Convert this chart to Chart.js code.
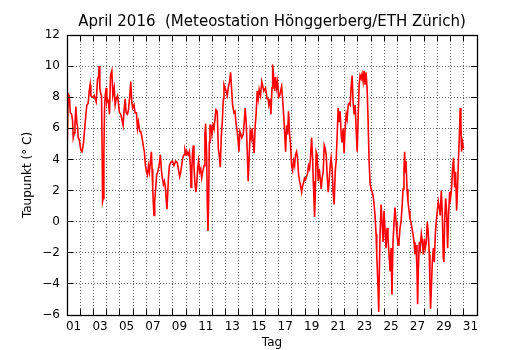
<!DOCTYPE html>
<html>
<head>
<meta charset="utf-8">
<script src="https://cdn.jsdelivr.net/npm/chart.js@4.4.1/dist/chart.umd.min.js"></script>
<style>
html,body{margin:0;padding:0;background:#fff;}
#wrap{width:530px;height:350px;position:relative;}
</style>
</head>
<body>
<div id="wrap"><canvas id="c" width="530" height="350"></canvas></div>
<script>
const chartTitle = 'April 2016  (Meteostation Hönggerberg/ETH Zürich)';
const xTitle = 'Tag';
const yTitle = 'Taupunkt (° C)';
const dayLabels = ['01','03','05','07','09','11','13','15','17','19','21','23','25','27','29','31'];
const yTicks = [-6,-4,-2,0,2,4,6,8,10,12];

// time in days (1.0 = 1 April 00:00)
const days = [
1.0,1.09,1.17,1.25,1.35,1.42,1.47,1.55,1.60,1.67,
1.75,1.80,1.85,1.92,2.05,2.13,2.18,2.25,2.35,2.43,
2.50,2.60,2.68,2.75,2.80,2.93,3.01,3.06,3.13,3.21,
3.31,3.38,3.43,3.48,3.56,3.61,3.66,3.69,3.74,3.79,
3.84,3.89,3.96,4.01,4.06,4.14,4.21,4.29,4.39,4.47,
4.57,4.64,4.72,4.82,4.89,4.97,5.07,5.17,5.24,5.32,
5.40,5.47,5.57,5.65,5.75,5.82,5.90,5.97,6.07,6.15,
6.25,6.33,6.40,6.50,6.58,6.65,6.73,6.80,6.85,6.93,
7.01,7.08,7.16,7.23,7.31,7.38,7.43,7.48,7.53,7.58,
7.63,7.71,7.78,7.86,7.96,8.06,8.14,8.21,8.29,8.36,
8.44,8.51,8.56,8.61,8.67,8.74,8.84,8.97,9.09,9.22,
9.34,9.42,9.52,9.60,9.67,9.75,9.85,9.92,10.0,10.07,
10.17,10.25,10.33,10.38,10.43,10.48,10.55,10.60,10.68,10.75,
10.80,10.88,10.95,11.03,11.11,11.18,11.26,11.36,11.43,11.48,
11.56,11.61,11.66,11.71,11.76,11.81,11.88,11.96,12.04,12.11,
12.19,12.26,12.36,12.44,12.51,12.59,12.66,12.74,12.82,12.87,
12.94,13.04,13.12,13.19,13.29,13.37,13.44,13.52,13.62,13.70,
13.77,13.87,13.95,14.0,14.07,14.15,14.22,14.32,14.40,14.47,
14.55,14.63,14.70,14.78,14.85,14.93,15.0,15.08,15.15,15.23,
15.30,15.38,15.46,15.53,15.63,15.73,15.81,15.88,16.01,16.13,
16.20,16.27,16.35,16.42,16.50,16.55,16.62,16.70,16.77,16.85,
16.92,17.0,17.08,17.15,17.23,17.30,17.38,17.45,17.53,17.60,
17.68,17.75,17.83,17.91,17.98,18.06,18.13,18.21,18.28,18.36,
18.43,18.51,18.59,18.66,18.74,18.81,18.89,18.96,19.04,19.11,
19.19,19.26,19.34,19.41,19.49,19.57,19.62,19.67,19.72,19.77,
19.84,19.92,19.99,20.07,20.14,20.22,20.29,20.37,20.45,20.52,
20.60,20.67,20.75,20.82,20.90,20.97,21.05,21.12,21.20,21.28,
21.35,21.43,21.50,21.58,21.65,21.73,21.80,21.88,21.95,22.03,
22.11,22.18,22.26,22.33,22.41,22.48,22.56,22.63,22.71,22.79,
22.86,22.94,23.01,23.09,23.16,23.24,23.31,23.39,23.46,23.54,
23.61,23.69,23.77,23.84,23.92,24.0,24.07,24.14,24.22,24.29,
24.37,24.42,24.47,24.52,24.57,24.62,24.67,24.75,24.82,24.90,
24.97,25.05,25.12,25.20,25.27,25.35,25.43,25.50,25.57,25.65,
25.73,25.80,25.88,25.95,26.03,26.10,26.18,26.26,26.33,26.41,
26.48,26.53,26.58,26.63,26.71,26.78,26.86,26.93,27.0,27.08,
27.16,27.24,27.31,27.39,27.46,27.51,27.56,27.64,27.71,27.79,
27.87,27.94,28.02,28.09,28.17,28.24,28.32,28.39,28.44,28.49,
28.55,28.62,28.70,28.77,28.85,28.92,29.0,29.07,29.15,29.22,
29.30,29.37,29.45,29.50,29.55,29.63,29.70,29.78,29.85,29.93,
30.0,30.08,30.15,30.23,30.31,30.38,30.46,30.53,30.61,30.68,
30.73,30.78,30.83,30.91,30.98
];

// dew point in °C
const dewpoint = [
4.3,8.2,8.1,7.0,6.9,6.5,5.4,5.7,6.2,7.4,
6.3,6.1,5.4,5.3,4.6,4.5,4.7,5.1,6.1,6.9,
7.5,7.6,8.4,8.8,8.1,8.0,8.0,8.1,7.9,7.7,
9.2,9.3,10.0,8.6,8.2,8.1,4.3,1.3,1.5,4.5,
7.3,8.1,8.6,7.7,7.9,7.7,6.9,9.4,9.7,8.1,
8.6,7.5,7.9,8.1,7.6,7.0,6.9,6.5,6.2,7.2,
7.9,7.0,6.9,7.2,8.1,9.0,7.7,7.3,7.5,7.0,
7.0,6.0,6.4,5.8,5.8,5.5,5.1,4.7,4.5,3.6,
3.2,3.0,3.6,3.2,3.9,4.5,3.4,2.2,1.1,0.4,
1.3,2.2,3.0,3.2,3.6,4.3,3.3,2.8,2.4,2.6,
2.2,1.3,0.8,1.7,2.8,3.6,3.8,3.9,3.6,3.9,
3.8,3.4,2.9,3.2,3.6,4.1,4.3,4.6,4.3,4.5,
4.3,4.5,3.6,2.2,3.0,4.3,4.9,3.6,2.4,1.9,
2.3,3.4,3.9,3.2,3.4,2.8,3.2,3.6,5.6,6.3,
4.3,1.1,-0.6,1.3,5.1,6.2,6.2,5.6,6.2,6.0,
6.6,7.2,7.1,4.7,4.3,3.5,5.4,6.4,7.9,8.8,
8.6,8.4,8.1,8.6,9.0,9.6,8.6,7.5,7.0,7.1,
6.4,5.8,5.1,4.5,5.8,5.6,5.4,5.6,6.4,7.3,
6.4,4.5,2.6,4.3,5.8,5.4,6.0,5.1,4.4,6.2,
6.9,8.4,7.9,8.5,8.1,9.0,8.7,8.4,8.6,7.9,
7.9,7.5,7.7,6.9,8.6,10.1,9.4,8.4,9.3,8.6,
9.0,8.0,8.1,8.4,8.7,7.9,6.9,5.8,4.5,6.2,
5.6,7.1,5.6,4.9,3.6,3.3,3.9,3.6,4.3,4.5,
4.1,3.0,2.6,2.3,1.9,2.3,2.5,2.8,2.7,2.9,
3.1,3.6,3.4,4.1,5.4,4.1,2.6,1.5,0.3,1.7,
4.5,4.3,2.6,3.4,2.8,2.1,2.8,3.2,4.9,4.7,
4.3,3.0,1.9,2.6,3.6,4.1,3.4,1.9,1.1,3.2,
3.9,5.6,7.3,6.4,7.1,5.6,5.1,6.0,4.4,6.0,
6.9,6.6,7.5,7.6,7.5,8.6,9.4,7.7,6.9,7.5,
6.0,4.5,6.6,8.8,9.4,9.2,9.5,9.0,9.7,8.8,
9.6,8.6,6.4,3.9,2.4,2.1,1.9,1.7,1.1,0.4,
-0.8,-2.1,-3.2,-4.3,-5.8,-3.0,-0.8,1.1,0.0,-1.3,
0.7,-0.6,-1.7,-0.4,-1.1,-2.1,-3.2,-1.7,-4.7,-1.3,
0.0,0.9,0.0,-0.8,-1.5,-1.3,-0.4,0.0,0.9,2.1,
3.4,4.5,3.2,3.9,2.1,1.3,0.7,0.2,0.0,-0.4,
-0.8,-1.3,-2.1,-1.5,-3.0,-5.3,-3.2,-1.3,-1.7,-0.8,
-1.3,-2.1,-1.1,-1.7,-1.3,0.0,-0.8,-2.1,-4.1,-5.6,
-4.3,-2.6,-1.7,-2.6,-0.8,0.0,0.7,1.3,0.9,0.4,
2.0,0.7,-2.3,-2.6,0.0,1.5,0.7,-1.7,0.4,1.9,
1.5,2.2,3.4,4.1,2.2,3.2,0.7,2.2,4.3,5.8,
7.3,6.4,4.5,5.1,4.7
];

if (days.length !== dewpoint.length) console.error('length mismatch', days.length, dewpoint.length);

Chart.defaults.font.family = "'DejaVu Sans', sans-serif";
Chart.defaults.color = '#000';

const tickPositions = [];
for (let d = 1; d <= 32; d++) tickPositions.push(d);
dayLabels.forEach(l => tickPositions.push(Number(l) + 0.5));
tickPositions.sort((a, b) => a - b);

const gridColor = 'rgba(0,0,0,0.6)';

const framePlugin = {
  id: 'frame',
  beforeDraw(chart) {
    const c = chart.ctx;
    c.save();
    c.fillStyle = '#fff';
    c.fillRect(0, 0, chart.width, chart.height);
    c.restore();
  },
  afterDatasetsDraw(chart) {
    const {ctx, chartArea: a, scales: {x, y}} = chart;
    const al = p => Math.round(p - 0.5) + 0.5;
    ctx.save();
    ctx.strokeStyle = '#000';
    ctx.lineWidth = 1;
    ctx.beginPath();
    for (let d = Math.ceil(x.min) + 1; d < x.max; d++) {
      const px = al(x.getPixelForValue(d));
      ctx.moveTo(px, a.bottom); ctx.lineTo(px, a.bottom - 6);
      ctx.moveTo(px, a.top); ctx.lineTo(px, a.top + 6);
    }
    yTicks.forEach(v => {
      if (v <= y.min || v >= y.max) return;
      const py = al(y.getPixelForValue(v));
      ctx.moveTo(a.left, py); ctx.lineTo(a.left + 6, py);
      ctx.moveTo(a.right, py); ctx.lineTo(a.right - 6, py);
    });
    ctx.stroke();
    ctx.lineWidth = 1.3;
    ctx.strokeRect(al(a.left), al(a.top), Math.round(a.right - a.left), Math.round(a.bottom - a.top));
    ctx.restore();
  }
};

new Chart(document.getElementById('c'), {
  type: 'line',
  data: {
    datasets: [{
      data: days.map((d, i) => ({x: d, y: dewpoint[i]})),
      borderColor: '#ff0000',
      borderWidth: 1.6,
      pointRadius: 0,
      tension: 0,
      fill: false
    }]
  },
  options: {
    responsive: false,
    animation: false,
    devicePixelRatio: 1,
    layout: {padding: {left: 0, right: 53, top: 0, bottom: 0}},
    plugins: {
      legend: {display: false},
      tooltip: {enabled: false},
      title: {
        display: true,
        text: chartTitle,
        fullSize: false,
        color: '#000',
        font: {size: 15, weight: 'normal'},
        padding: {top: 13, bottom: 4}
      }
    },
    scales: {
      x: {
        type: 'linear',
        min: 1,
        max: 32,
        afterBuildTicks: s => { s.ticks = tickPositions.map(v => ({value: v})); },
        afterFit: s => { s.height = 35; },
        ticks: {
          autoSkip: false, maxRotation: 0, minRotation: 0, padding: 5,
          font: {size: 12}, color: '#000',
          callback: v => { const l = dayLabels.find(t => Number(t) + 0.5 === v); return l || ''; }
        },
        grid: {
          drawTicks: false, lineWidth: 1,
          color: ctx => {
            const v = ctx.tick ? ctx.tick.value : null;
            return (v !== null && Number.isInteger(v) && v > 1 && v < 32) ? gridColor : 'rgba(0,0,0,0)';
          }
        },
        border: {display: false, dash: [1, 2]},
        title: {display: true, text: xTitle, font: {size: 12}, color: '#000', padding: {top: 0, bottom: 0}}
      },
      y: {
        min: -6,
        max: 12,
        afterFit: s => { s.width = 67; },
        ticks: {
          stepSize: 2, padding: 7, font: {size: 12}, color: '#000',
          callback: v => String(v).replace('-', '\u2212')
        },
        grid: {
          drawTicks: false, lineWidth: 1,
          color: ctx => {
            const v = ctx.tick ? ctx.tick.value : null;
            return (v === -6 || v === 12) ? 'rgba(0,0,0,0)' : gridColor;
          }
        },
        border: {display: false, dash: [1, 2]},
        title: {display: true, text: yTitle, font: {size: 12}, color: '#000', padding: {top: 21, bottom: 0}}
      }
    }
  },
  plugins: [framePlugin]
});
</script>
</body>
</html>
